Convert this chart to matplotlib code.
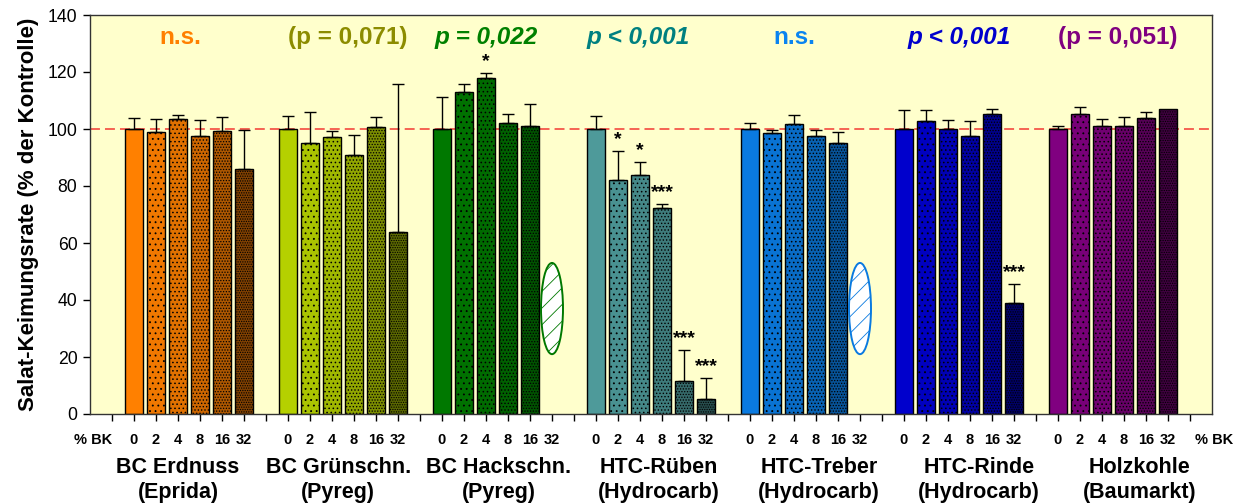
import numpy as np
import matplotlib
matplotlib.use("Agg")
import matplotlib.pyplot as plt
from matplotlib.patches import Ellipse
from matplotlib.colors import to_rgb

plt.rcParams['font.family'] = ['Liberation Sans', 'DejaVu Sans']
plt.rcParams['hatch.linewidth'] = 0.6

# ---------- data: germination rate (% of control), upper SD ----------
doses = ["0", "2", "4", "8", "16", "32"]
groups = ["BC Erdnuss\n(Eprida)", "BC Grünschn.\n(Pyreg)", "BC Hackschn.\n(Pyreg)",
          "HTC-Rüben\n(Hydrocarb)", "HTC-Treber\n(Hydrocarb)", "HTC-Rinde\n(Hydrocarb)",
          "Holzkohle\n(Baumarkt)"]
group_colors = ["#FF8000", "#B5D000", "#007800", "#4E9A9A", "#0A7AE0", "#0000CC", "#800080"]

erdnuss = [100.0, 99.1, 103.5, 97.4, 99.2, 86.1]
erdnuss_sd = [4.0, 4.5, 1.5, 5.9, 5.1, 13.7]
gruen = [100.0, 95.0, 97.1, 90.8, 100.7, 64.0]
gruen_sd = [4.4, 11.1, 2.3, 7.2, 3.4, 51.8]
hack = [100.0, 112.9, 117.9, 102.0, 100.9, None]
hack_sd = [11.2, 3.0, 1.7, 3.4, 8.0, None]
rueben = [100.0, 82.0, 83.8, 72.2, 11.7, 5.4]
rueben_sd = [4.7, 10.2, 4.6, 1.6, 10.9, 7.1]
treber = [100.0, 98.5, 101.8, 97.5, 95.0, None]
treber_sd = [2.0, 1.0, 3.0, 2.0, 4.1, None]
rinde = [100.0, 102.7, 100.0, 97.5, 105.4, 38.9]
rinde_sd = [6.7, 4.0, 3.0, 5.4, 1.5, 6.7]
holz = [100.0, 105.3, 100.9, 100.9, 103.7, 107.1]
holz_sd = [1.2, 2.5, 2.5, 3.2, 2.4, 0.0]

means = [erdnuss, gruen, hack, rueben, treber, rinde, holz]
sds = [erdnuss_sd, gruen_sd, hack_sd, rueben_sd, treber_sd, rinde_sd, holz_sd]

# significance vs. control (per dose)
stars = [["", "", "", "", "", ""],
         ["", "", "", "", "", ""],
         ["", "", "*", "", "", ""],
         ["", "*", "*", "***", "***", "***"],
         ["", "", "", "", "", ""],
         ["", "", "", "", "", "***"],
         ["", "", "", "", "", ""]]

p_texts = ["n.s.", "(p = 0,071)", "p = 0,022", "p < 0,001", "n.s.", "p < 0,001", "(p = 0,051)"]
p_italic = [False, False, True, True, False, True, False]
p_colors = ["#FF8000", "#8C8C00", "#008000", "#008080", "#0A84F0", "#0000CC", "#800080"]
p_xpos = [4.1, 11.7, 18.0, 24.9, 32.0, 39.5, 46.7]

# ---------- styling per dose ----------
shade = [1.0, 0.94, 0.88, 0.8, 0.68, 0.5]
hatches = ["", "...", "....", ".....", "......", "......."]

fig = plt.figure(figsize=(12.44, 5.04), dpi=100)
ax = fig.add_axes([90 / 1244, 90 / 504, 1122 / 1244, 399 / 504])
ax.set_facecolor("#FFFFCC")

ax.axhline(100, color="#F4574A", lw=1.3, ls=(0, (5.5, 2.8)), zorder=1)

for g in range(len(groups)):
    base = np.array(to_rgb(group_colors[g]))
    for j in range(len(doses)):
        x = 2 + 7 * g + j
        m = means[g][j]
        if m is None:
            # dose not tested: hatched oval marker in the empty slot
            e = Ellipse((x, 37), width=1.0, height=32, facecolor="white",
                        edgecolor=group_colors[g], hatch="//", lw=1.4, zorder=3)
            ax.add_patch(e)
            continue
        ax.bar(x, m, width=0.82, color=base * shade[j], edgecolor="black",
               linewidth=1.0, hatch=hatches[j], zorder=2)
        s = sds[g][j]
        if s:
            ax.errorbar(x, m, yerr=[[0], [s]], fmt="none", ecolor="black",
                        elinewidth=1.0, capsize=4, capthick=1.0, zorder=4)
        if stars[g][j]:
            ax.annotate(stars[g][j], xy=(x, m + s), xytext=(0, 5), textcoords="offset points",
                        ha="center", va="baseline", fontsize=14, fontweight="bold")

for g in range(len(groups)):
    ax.text(p_xpos[g], 132, p_texts[g], ha="center", va="center", fontsize=17.5,
            fontweight="bold", style="italic" if p_italic[g] else "normal",
            color=p_colors[g])

# ---------- axes ----------
ax.set_xlim(0, 51)
ax.set_ylim(0, 140)
ax.set_yticks(np.arange(0, 141, 20))
ax.tick_params(axis="y", direction="out", length=5, width=1, labelsize=12.7, pad=4)

xt = np.arange(1, 51)
xl = []
for t in xt:
    k = (t - 2) % 7
    xl.append(doses[k] if k < 6 else "")
ax.set_xticks(xt)
ax.set_xticklabels(xl, fontsize=10.5, fontweight="bold")
ax.tick_params(axis="x", direction="out", length=5, width=1, pad=9)

for sp in ax.spines.values():
    sp.set_color("#333333")
    sp.set_linewidth(1.0)

for xpos in (0.15, 51.1):
    ax.annotate("% BK", xy=(xpos, 0), xycoords=("data", "axes fraction"),
                xytext=(0, -14), textcoords="offset points", ha="center", va="top",
                fontsize=10.5, fontweight="bold", annotation_clip=False)

label_x = np.linspace(4.0, 47.7, len(groups))
for g in range(len(groups)):
    ax.annotate(groups[g], xy=(label_x[g], 0), xycoords=("data", "axes fraction"),
                xytext=(0, -31), textcoords="offset points", ha="center", va="top",
                fontsize=15.5, fontweight="bold", linespacing=1.25, annotation_clip=False)

ax.set_ylabel("Salat-Keimungsrate (% der Kontrolle)", fontsize=16, fontweight="bold", labelpad=6)

fig.savefig("out.png", dpi=100)
